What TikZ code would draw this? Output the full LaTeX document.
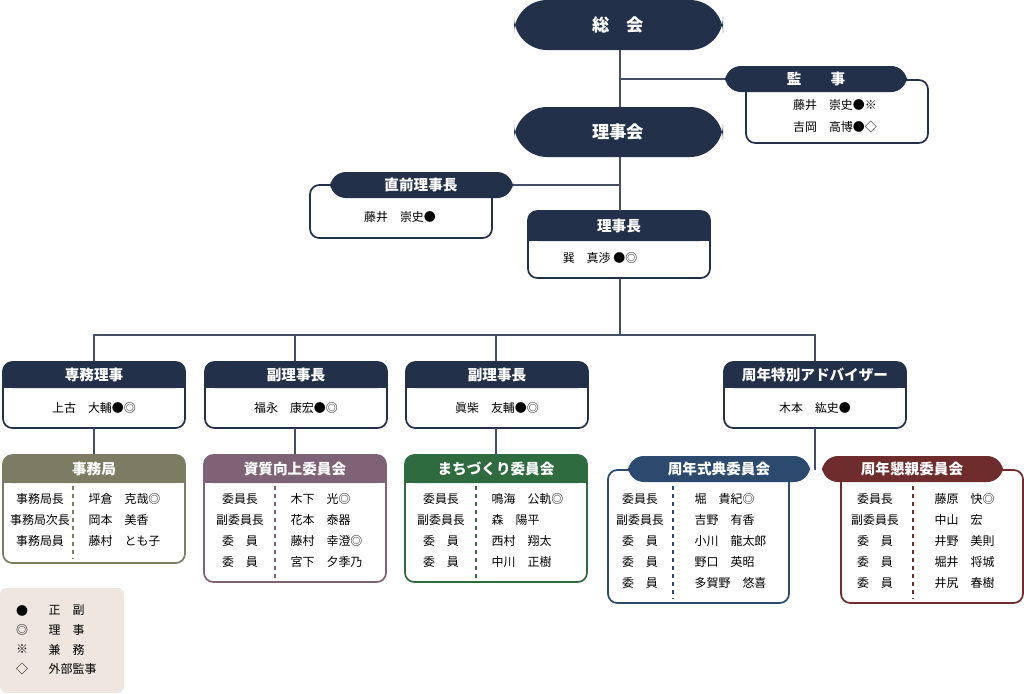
\documentclass[tikz,border=0pt]{standalone}
\usepackage{fontspec}
\setmainfont{Noto Sans CJK JP}
\usetikzlibrary{positioning}
\definecolor{navy}{HTML}{22304A}
\definecolor{blueh}{HTML}{2C4A6E}
\definecolor{olive}{HTML}{7B7C62}
\definecolor{mauve}{HTML}{7D6375}
\definecolor{green}{HTML}{2E6B3E}
\definecolor{redh}{HTML}{6E2C2C}
\definecolor{legend}{HTML}{EFE7DF}
\tikzset{
  line/.style={draw=navy!85, line width=1.2pt},
  head/.style={text=white, font=\bfseries\fontsize{11}{13}\selectfont},
  body/.style={font=\fontsize{9}{11}\selectfont, text=black},
  sep/.style={dashed, line width=0.8pt},
}
% box with a coloured header: name, x1, y1, x2, y2, header bottom, colour, title
\newcommand\cbox[8]{%
  \draw[#7, line width=1.3pt, rounded corners=7pt] (#2,#3) rectangle (#4,#5);
  \fill[#7, rounded corners=7pt] (#2,#3) rectangle (#4,#6);
  \fill[#7] (#2,#6-8) rectangle (#4,#6);
  \node[head] (#1) at ({(#2+#4)/2},{(#3+#6)/2}) {#8};
}
% box with a floating pill header: name, x1, y1, x2, y2, colour, pill path, title pos, title
\newcommand\pbox[9]{%
  \draw[#6, line width=1.3pt, rounded corners=7pt] (#2,#3) rectangle (#4,#5);
  \fill[#6, rounded corners=12pt] #7;
  \node[head] (#1) at #8 {#9};
}
\begin{document}
\begin{tikzpicture}[x=0.0264583cm, y=-0.0264583cm]
\useasboundingbox (0,0) rectangle (1024,693);

% top
\fill[navy, rounded corners=25pt] (514,0) rectangle (723,50);
\node[head, font=\bfseries\fontsize{13}{15}\selectfont] (soukai) at (618,25) {総　会};
\fill[navy, rounded corners=25pt] (514,107) rectangle (723,157);
\node[head, font=\bfseries\fontsize{13}{15}\selectfont] (rijikai) at (618,132) {理事会};

\pbox{kanji}{746}{80}{928}{143}{navy}{(725,66) rectangle (907,92)}{(816,79)}{監　　事}
\node[body] (kanji1) at (835,105) {藤井　崇史●※};
\node[body] (kanji2) at (835,127) {吉岡　高博●◇};

\pbox{zenri}{310}{185}{492}{238}{navy}{(330,172) rectangle (513,198)}{(421,185)}{直前理事長}
\node[body] (zenri1) at (400,217) {藤井　崇史●};

\cbox{richo}{528}{211}{710}{278}{241}{navy}{理事長}
\node[body] (richo1) at (600,258) {巽　真渉 ●◎};

% connectors top
\coordinate (j1) at (620,79);
\coordinate (j2) at (620,185);
\draw[line] (620,50) -- (620,107);
\draw[line] (j1) -- (725,79);
\draw[line] (620,157) -- (620,211);
\draw[line] (j2) -- (513,185);
\draw[line] (620,278) -- (620,335);
\draw[line] (94,362) |- (815,335) -- (815,362);
\draw[line] (295,335) -- (295,362);
\draw[line] (496,335) -- (496,362);

% second row
\cbox{senmu}{3}{362}{185}{428}{388}{navy}{専務理事}
\node[body] at (94,408) {上古　大輔●◎};
\cbox{fuku1}{205}{362}{387}{428}{388}{navy}{副理事長}
\node[body] at (296,408) {福永　康宏●◎};
\cbox{fuku2}{406}{362}{588}{428}{388}{navy}{副理事長}
\node[body] at (497,408) {眞柴　友輔●◎};
\cbox{adv}{724}{362}{906}{428}{388}{navy}{周年特別アドバイザー}
\node[body] at (815,408) {木本　紘史●};

\draw[line] (94,428) -- (94,455);
\draw[line] (295,428) -- (295,455);
\draw[line] (496,428) -- (496,455);
\draw[line] (815,428) -- (815,470);

% committees
\cbox{jimu}{3}{455}{185}{563}{483}{olive}{事務局}
\draw[olive, sep] (73,486) -- (73,558);
\foreach \r/\n [count=\i] in {事務局長/坪倉　克哉◎, 事務局次長/岡本　美香, 事務局員/藤村　とも子}{
  \node[body] at (40,478+21*\i) {\r};
  \node[body, anchor=west] at (84,478+21*\i) {\n};
}

\cbox{shishitsu}{204}{455}{386}{582}{483}{mauve}{資質向上委員会}
\draw[mauve, sep] (275,486) -- (275,578);
\foreach \r/\n [count=\i] in {委員長/木下　光◎, 副委員長/花本　泰器, 委　員/藤村　幸澄◎, 委　員/宮下　夕季乃}{
  \node[body] at (240,478+21*\i) {\r};
  \node[body, anchor=west] at (286,478+21*\i) {\n};
}

\cbox{machi}{405}{455}{587}{582}{483}{green}{まちづくり委員会}
\draw[green, sep] (476,486) -- (476,578);
\foreach \r/\n [count=\i] in {委員長/鳴海　公軌◎, 副委員長/森　陽平, 委　員/西村　翔太, 委　員/中川　正樹}{
  \node[body] at (441,478+21*\i) {\r};
  \node[body, anchor=west] at (487,478+21*\i) {\n};
}

\pbox{shikiten}{608}{470}{789}{603}{blueh}{(628,456) rectangle (810,482)}{(719,469)}{周年式典委員会}
\draw[blueh, sep] (673,486) -- (673,598);
\foreach \r/\n [count=\i] in {委員長/堀　貴紀◎, 副委員長/吉野　有香, 委　員/小川　龍太郎, 委　員/野口　英昭, 委　員/多賀野　悠喜}{
  \node[body] at (640,478+21*\i) {\r};
  \node[body, anchor=west] at (690,478+21*\i) {\n};
}

\pbox{konshin}{841}{470}{1023}{603}{redh}{(822,456) rectangle (1003,482)}{(912,469)}{周年懇親委員会}
\draw[redh, sep] (913,486) -- (913,598);
\foreach \r/\n [count=\i] in {委員長/藤原　快◎, 副委員長/中山　宏, 委　員/井野　美則, 委　員/堀井　将城, 委　員/井尻　春樹}{
  \node[body] at (875,478+21*\i) {\r};
  \node[body, anchor=west] at (930,478+21*\i) {\n};
}

% legend
\fill[legend, rounded corners=5pt] (0,588) rectangle (124,693);
\foreach \s/\t [count=\i] in {●/正　副, ◎/理　事, ※/兼　務, ◇/外部監事}{
  \node[body] at (22,591+19.5*\i) {\s};
  \node[body, anchor=west] at (44,591+19.5*\i) {\t};
}
\end{tikzpicture}
\end{document}
